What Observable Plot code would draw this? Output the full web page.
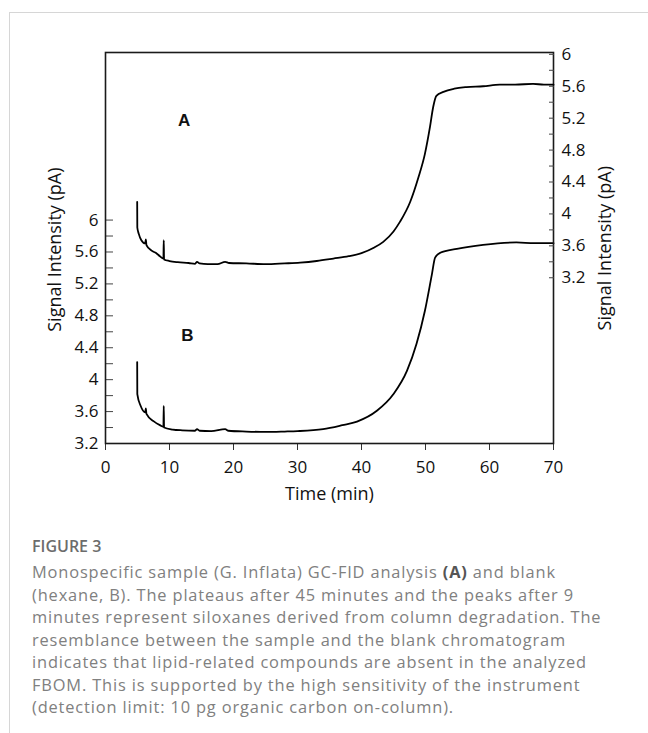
<!DOCTYPE html>
<html>
<head>
<meta charset="utf-8">
<script src="https://cdn.jsdelivr.net/npm/d3@7"></script>
<script src="https://cdn.jsdelivr.net/npm/@observablehq/plot@0.6"></script>
<style>
  html, body { margin: 0; padding: 0; background: #fff; }
  body { width: 648px; height: 733px; overflow: hidden; position: relative; }
  #frame { position: absolute; left: 9px; top: 12px; width: 700px; height: 800px;
           border-left: 1px solid #d6d6d6; border-top: 1px solid #d6d6d6; }
  #chart { position: absolute; left: 0; top: 0; width: 648px; height: 510px; }
  #chart svg { position: absolute; left: 0; top: 0; }
  #caption { position: absolute; left: 32px; top: 535px; width: 610px;
             font-family: "Open Sans", sans-serif; color: #808080; }
  #caption .fig { font-size: 16px; font-weight: 600; color: #6c6c6c; line-height: 22px; margin-bottom: 4px; }
  #caption .ln { font-size: 16.4px; line-height: 22.5px; letter-spacing: 0.85px; white-space: nowrap; }
  #caption b { color: #555; font-weight: 700; }
</style>
</head>
<body>
<div id="frame"></div>
<div id="chart"></div>
<div id="caption">
  <div class="fig">FIGURE 3</div>
  <div class="ln">Monospecific sample (G. Inflata) GC-FID analysis <b>(A)</b> and blank</div>
  <div class="ln">(hexane, B). The plateaus after 45 minutes and the peaks after 9</div>
  <div class="ln">minutes represent siloxanes derived from column degradation. The</div>
  <div class="ln">resemblance between the sample and the blank chromatogram</div>
  <div class="ln">indicates that lipid-related compounds are absent in the analyzed</div>
  <div class="ln">FBOM. This is supported by the high sensitivity of the instrument</div>
  <div class="ln">(detection limit: 10 pg organic carbon on-column).</div>
</div>
<script>
// ---- data ----
// Sample A (right axis, pA)
const timeA = [4.95, 4.97, 5.2, 5.6, 6.2, 6.3, 6.4, 7.2, 7.9, 8.5, 9.05, 9.1, 9.15, 10, 11.3, 13, 14.0, 14.3, 14.7, 16, 17.5, 18.7, 19.3, 22, 25, 28, 30.4, 33, 35.6, 38, 40, 42, 43.4, 45, 46, 47.6, 48.9, 49.9, 50.7, 51.2, 51.7, 52.8, 54.5, 56.4, 59, 61.6, 64, 66.8, 68.5, 70];
const signalA = [4.15, 3.83, 3.75, 3.67, 3.63, 3.68, 3.61, 3.54, 3.51, 3.47, 3.44, 3.67, 3.43, 3.41, 3.395, 3.385, 3.375, 3.40, 3.38, 3.37, 3.37, 3.40, 3.385, 3.38, 3.37, 3.38, 3.39, 3.41, 3.44, 3.47, 3.51, 3.58, 3.65, 3.78, 3.90, 4.15, 4.46, 4.75, 5.09, 5.34, 5.48, 5.53, 5.57, 5.59, 5.60, 5.62, 5.62, 5.63, 5.62, 5.62];
// Blank B (left axis, pA)
const timeB = [4.95, 4.97, 5.5, 6.2, 6.3, 6.4, 7.5, 8.5, 9.05, 9.1, 9.15, 10.5, 12, 14.0, 14.3, 14.7, 16.5, 18.7, 19.2, 22, 25, 28, 30, 34, 37, 39.3, 42.4, 45, 47.1, 48.6, 49.9, 51, 51.5, 52.3, 54.9, 59, 64.2, 67, 70];
const signalB = [4.22, 3.82, 3.67, 3.59, 3.64, 3.57, 3.48, 3.43, 3.41, 3.67, 3.40, 3.375, 3.365, 3.36, 3.38, 3.36, 3.355, 3.38, 3.36, 3.35, 3.345, 3.35, 3.355, 3.38, 3.43, 3.475, 3.61, 3.82, 4.11, 4.45, 4.86, 5.32, 5.53, 5.59, 5.64, 5.69, 5.72, 5.71, 5.71];

// ---- ticks ----
const xTicks = [0, 10, 20, 30, 40, 50, 60, 70];
const yMajor = [3.2, 3.6, 4, 4.4, 4.8, 5.2, 5.6, 6];
const yMinor = [3.4, 3.8, 4.2, 4.6, 5.0, 5.4, 5.8];
const yAll = yMajor.concat(yMinor);
const axisTitle = "Signal Intensity (pA)";
const xTitle = "Time (min)";
const panelLabels = ["A", "B"];

const dataA = timeA.map((t, i) => ({t, v: signalA[i]}));
const dataB = timeB.map((t, i) => ({t, v: signalB[i]}));

const W = 648, H = 510;
const FS = 17;
const fmt = d => String(d);
const common = {
  width: W, height: H,
  marginLeft: 105, marginRight: 95, marginTop: 52, marginBottom: 67,
  x: {domain: [0, 70]},
  style: {fontFamily: "Open Sans", fontSize: "17px", color: "#111", background: "transparent", overflow: "visible"}
};

const left = Plot.plot({
  ...common,
  y: {domain: [3.2, 8.1]},
  marks: [
    Plot.axisX({ticks: xTicks, tickSize: 7, tickPadding: 10, tickFormat: fmt, label: null, stroke: "#333", fontSize: FS}),
    Plot.axisY({anchor: "left", ticks: yAll, tickSize: 8, dx: 8, tickFormat: () => "", label: null, stroke: "#444"}),
    Plot.axisY({anchor: "left", ticks: yMajor, tickSize: 0, tickPadding: 7, tickFormat: fmt, label: null, fontSize: FS}),
    Plot.text([axisTitle], {text: d => d, y: 4.6, frameAnchor: "left", dx: -50, rotate: -90, fontSize: 18}),
    Plot.text([xTitle], {text: d => d, frameAnchor: "bottom", dy: 56, fontSize: 18}),
    Plot.line(dataB, {x: "t", y: "v", stroke: "#000", strokeWidth: 1.8, curve: "monotone-x"}),
    Plot.text([panelLabels[1]], {text: d => d, x: 12.8, y: 4.55, fontFamily: "Liberation Sans", fontWeight: "bold", fontSize: 17}),
    Plot.frame({stroke: "#1a1a1a", strokeWidth: 1.6})
  ]
});

const right = Plot.plot({
  ...common,
  x: {domain: [0, 70], axis: null},
  y: {domain: [1.123, 6.023]},
  marks: [
    Plot.axisY({anchor: "right", ticks: yAll, tickSize: 5, dx: -5, tickFormat: () => "", label: null, stroke: "#444"}),
    Plot.axisY({anchor: "right", ticks: yMajor, tickSize: 0, tickPadding: 8, tickFormat: fmt, label: null, fontSize: FS}),
    Plot.text([axisTitle], {text: d => d, y: 4.6, frameAnchor: "right", dx: 52, rotate: -90, fontSize: 18}),
    Plot.line(dataA, {x: "t", y: "v", stroke: "#000", strokeWidth: 1.8, curve: "monotone-x"}),
    Plot.text([panelLabels[0]], {text: d => d, x: 12.3, y: 5.17, fontFamily: "Liberation Sans", fontWeight: "bold", fontSize: 17})
  ]
});

const chart = document.getElementById("chart");
chart.appendChild(left);
chart.appendChild(right);
</script>
</body>
</html>
